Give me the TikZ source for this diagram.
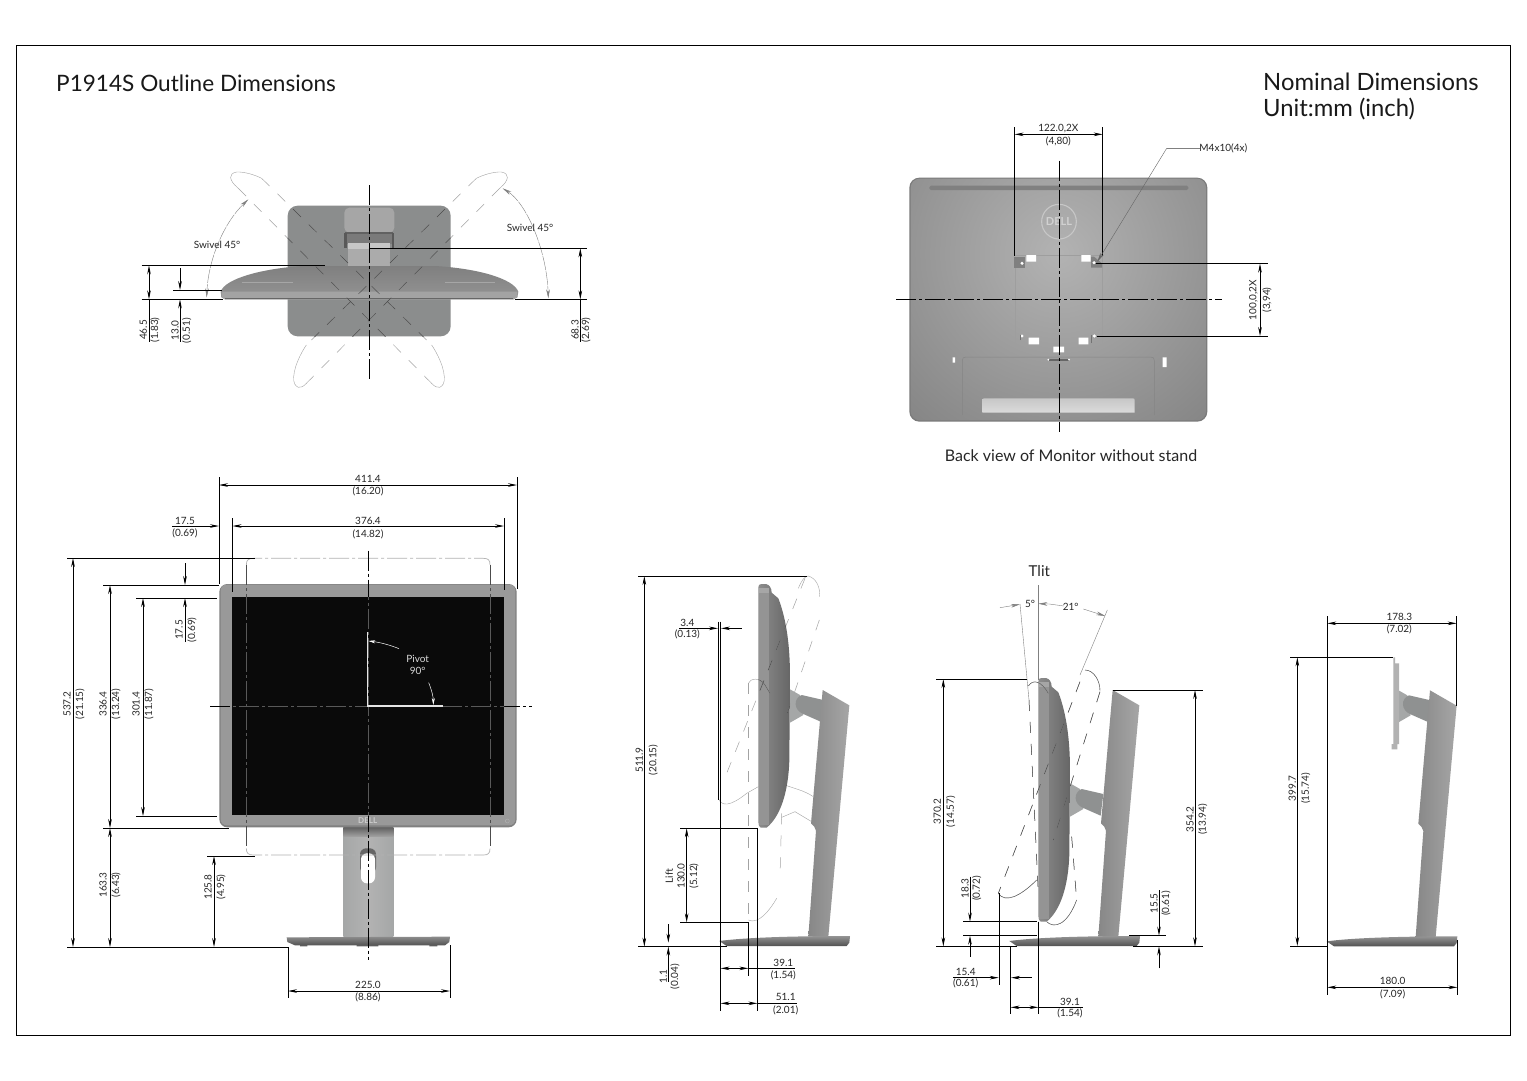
\documentclass[tikz,border=0pt]{standalone}
\usepackage{fontspec}
\setmainfont{Lato}
\usetikzlibrary{arrows.meta}
\definecolor{plateg}{HTML}{8B8D8D}
\definecolor{lightg}{HTML}{A5A7A7}
\definecolor{midg}{HTML}{8F9191}
\definecolor{darkg}{HTML}{6A6C6C}
\tikzset{
  dimtip/.tip={Stealth[length=9pt,width=3.6pt]},
  dimline/.style={line width=0.8pt,black,dimtip-dimtip},
  endtip/.style={line width=0.8pt,black,-dimtip},
  extline/.style={line width=0.8pt,black},
  cline/.style={line width=0.7pt,dash pattern=on 20pt off 3pt on 3pt off 3pt},
  ghost/.style={line width=0.5pt,draw=black!36,dash pattern=on 11pt off 11pt},
  ghostsolid/.style={line width=0.4pt,draw=black!36},
  thin gray/.style={line width=0.4pt,draw=black!50},
  lab/.style={font=\fontsize{10}{10}\selectfont,text=black!85,inner sep=0pt},
  rlab/.style={lab,rotate=90},
  big/.style={font=\fontsize{22.6}{22.6}\selectfont,text=black!90,inner sep=0pt,anchor=west},
  bigger/.style={font=\fontsize{23.8}{23.8}\selectfont,text=black!90,inner sep=0pt,anchor=west},
  darkghosts/.style={ghost/.append style={draw=black!72},ghostsolid/.append style={draw=black!68}},
}
\newcount\lblno
\def\T#1#2{\global\advance\lblno by 1 \node[lab] (t\the\lblno) at #1 {#2};}
\def\R#1#2{\global\advance\lblno by 1 \node[rlab] (t\the\lblno) at #1 {#2};}
% side-view parts (coordinates of the first side view, 3x)
\def\armpart{%
  \fill[lightg] (480,388) -- (510,405) -- (520,465) -- (480,488) -- cycle;
  \fill[midg] (515,405) -- (580,420) -- (572,485) -- (520,462) .. controls (490,450) and (490,415) .. (515,405) -- cycle;
}
\def\columnpart{%
  \shade[left color=black!47,middle color=black!45,right color=black!35] (578,390) -- (658,436) -- (595,1130) -- (535,1130) -- (558,812) .. controls (556,802) and (550,795) .. (543,790) -- cycle;
  \shade[top color=black!42,bottom color=black!68] (268,1143) .. controls (350,1132) and (500,1128) .. (660,1128) -- (658,1148) -- (650,1158) -- (290,1158) -- cycle;
}
\def\monpath{(385,82) .. controls (385,75) and (388,72) .. (395,72) -- (408,72) .. controls (418,74) and (425,84) .. (425,98) -- (445,115)
    .. controls (470,180) and (480,260) .. (480,350) -- (478,600) .. controls (475,700) and (450,770) .. (410,803) -- (392,803) .. controls (387,800) and (385,795) .. (385,785) -- cycle}
\def\monpart{%
  \shade[left color=black!45,middle color=black!48,right color=black!60] \monpath;
  \fill[black!35] (386,84) rectangle (416,98);
  \fill[black!42] (386,100) rectangle (417,795);
}
\def\swivelghost{%
  \draw[ghost] (395,55) -- (905,555);
  \draw[ghost] (325,85) -- (895,660);
  \draw[ghostsolid] (325,85) .. controls (295,60) and (295,40) .. (320,36) .. controls (345,35) and (375,45) .. (395,55);
  \draw[ghostsolid] (905,555) .. controls (935,600) and (950,650) .. (940,672) .. controls (925,695) and (910,675) .. (895,660);
}
\def\swivelboth{%
  \swivelghost
  \begin{scope}[shift={(1434,0)},xscale=-1]\swivelghost\end{scope}
}
\def\liftghosts{%
  \draw[ghost] (525,55) -- (290,640);
  \draw[ghost] (568,180) -- (465,480);
  \draw[ghostsolid] (505,85) .. controls (515,60) and (525,48) .. (535,48) .. controls (560,55) and (572,85) .. (568,110);
  \draw[ghostsolid] (265,715) .. controls (275,740) and (300,740) .. (350,700) -- (385,680);
  \draw[ghostsolid] (465,675) .. controls (490,685) and (520,690) .. (550,710);
  \draw[ghost] (355,370) -- (355,1080);
  \draw[ghost] (455,760) -- (450,950);
  \draw[ghostsolid] (355,370) .. controls (360,355) and (390,350) .. (405,375) -- (420,400);
  \draw[ghostsolid] (355,1080) .. controls (385,1095) and (420,1050) .. (440,1015);
  \draw[ghostsolid] (455,772) -- (495,755) -- (545,785);
}
\def\tiltghosts{%
  \draw[ghost] (480,365) -- (235,1000);
  \draw[ghost] (540,395) -- (400,840);
  \draw[ghost] (327,420) -- (355,1000);
  \draw[ghost] (455,830) -- (470,1020);
  \draw[ghostsolid] (495,330) .. controls (520,330) and (540,360) .. (540,392);
  \draw[ghostsolid] (235,1000) .. controls (255,1030) and (300,1010) .. (350,960);
  \draw[ghostsolid] (325,378) .. controls (340,355) and (365,365) .. (385,400);
  \draw[ghostsolid] (380,1085) .. controls (400,1105) and (440,1100) .. (470,1020);
}
\begin{document}
\begin{tikzpicture}[x=1pt,y=-1pt]
\useasboundingbox (0,0) rectangle (1527,1080);
\fill[white] (0,0) rectangle (1527,1080);
\draw[line width=0.7pt,black] (16,45) rectangle (1510,1035);
\node[big] (title) at (56,83) {P1914S Outline Dimensions};
\node[bigger] (nominal) at (1263,82) {Nominal Dimensions};
\node[bigger] (unit) at (1263,109) {Unit:mm (inch)};

%% ---------- top view ----------
\begin{scope}[shift={(130,160)},scale=1/3]
\fill[plateg,rounded corners=10pt] (473,137) rectangle (962,529);
\fill[black!35,rounded corners=5pt] (643,143) rectangle (793,218);
\fill[black!52] (648,218) rectangle (788,252);
\fill[black!62] (645,216) rectangle (790,221);
\fill[black!65] (643,218) rectangle (650,265);
\fill[black!65] (786,218) rectangle (793,265);
\fill[black!22] (655,250) rectangle (780,268);
\fill[black!33] (655,268) rectangle (780,320);
\shade[top color=black!50,bottom color=black!42] (272,395) .. controls (285,355) and (400,325) .. (520,318) -- (915,318) .. controls (1040,325) and (1150,355) .. (1165,395) -- (1162,412) -- (1150,418) -- (285,418) -- (274,412) -- cycle;
\fill[black!36] (275,395) -- (1162,395) -- (1162,411) -- (1150,418) -- (285,418) -- (275,411) -- cycle;
\draw[black!35,line width=0.8pt] (335,367) -- (490,367);
\draw[black!35,line width=0.8pt] (945,367) -- (1095,367);
\draw[black!60,line width=0.6pt] (285,416) -- (1150,416);
\swivelboth
\begin{scope}
\clip (473,137) rectangle (962,529);
\tikzset{darkghosts}
\swivelboth
\end{scope}
\draw[thin gray,dimtip-dimtip,dash pattern=on 14pt off 1pt] (355,118) .. controls (280,190) and (235,300) .. (230,412);
\draw[thin gray,dimtip-dimtip,dash pattern=on 14pt off 1pt] (1118,85) .. controls (1190,130) and (1250,270) .. (1255,415);
\draw[cline] (717,75) -- (717,660);
\draw[extline] (35,316) -- (585,316);
\draw[extline] (35,418) -- (280,418);
\draw[dimline] (57,316) -- (57,418);
\draw[extline] (57,418) -- (57,545);
\draw[extline] (130,390) -- (275,390);
\draw[endtip] (150,325) -- (150,390);
\draw[endtip] (150,545) -- (150,418);
\draw[extline] (717,265) -- (1372,265);
\draw[extline] (1155,418) -- (1372,418);
\draw[dimline] (1351,265) -- (1351,418);
\draw[extline] (1351,418) -- (1351,545);
\R{(40,510)}{46.5}\R{(75,510)}{(1.83)}
\R{(135,512)}{13.0}\R{(170,512)}{(0.51)}
\R{(1335,510)}{68.3}\R{(1368,510)}{(2.69)}
\T{(261,255)}{Swivel 45°}
\T{(1200,205)}{Swivel 45°}
\end{scope}

%% ---------- back view ----------
\begin{scope}[shift={(890,120)},scale=1/3]
\fill[black!52,rounded corners=10pt] (58,173) rectangle (952,905);
\begin{scope}
\clip[rounded corners=9pt] (62,176) rectangle (948,901);
\shade[inner color=black!30,outer color=black!50] (507,400) circle (760);
\end{scope}
\fill[black!50,rounded corners=1.5pt] (118,197) rectangle (895,210);
\draw[black!22,line width=1.1pt] (507,305) circle (52);
\node[font=\bfseries\fontsize{11}{11}\selectfont,text=black!18,inner sep=0pt] (delllogo) at (507,305) {DELL};
\draw[black!38,line width=0.4pt] (372,405) -- (636,405) -- (636,670);
\draw[black!38,line width=0.4pt] (375,440) -- (375,670);
\fill[black!50] (372,410) -- (372,443) -- (405,443) -- (405,410) -- cycle;
\fill[black!50] (603,410) -- (603,443) -- (636,443) -- (636,430) -- (612,410) -- cycle;
\fill[white] (409,405) rectangle (438,425) (574,405) rectangle (602,425);
\fill[white] (416,653) rectangle (447,673) (566,653) rectangle (595,673) (490,680) rectangle (522,697);
\fill[white] (188,712) rectangle (195,728) (818,712) rectangle (830,741);
\fill[white] (396,430) circle (5) (612,428) circle (5) (396,648) circle (5) (613,648) circle (5);
\draw[black!55,line width=0.4pt] (390,660) -- (390,645) (605,645) -- (605,670);
\draw[black!48,line width=0.5pt] (217,885) -- (217,722) .. controls (217,714) and (220,711) .. (228,711) -- (782,711) .. controls (790,711) and (793,714) .. (793,722) -- (793,885);
\shade[top color=black!22,bottom color=black!14] (277,838) .. controls (277,835) and (279,835) .. (282,835) -- (728,835) .. controls (732,835) and (734,836) .. (734,840) -- (734,878) -- (277,878) -- cycle;
\fill[black!60] (478,716) rectangle (538,722);
\fill[white] (475,719) circle (3) (537,719) circle (3);
\draw[cline] (507,122) -- (507,935);
\draw[cline] (18,539) -- (995,539);
\draw[extline] (374,22) -- (374,408);
\draw[extline] (638,22) -- (638,408);
\draw[dimline] (374,43) -- (638,43);
\draw[extline] (618,431) -- (1133,431);
\draw[extline] (620,648) -- (1133,648);
\draw[dimline] (1110,431) -- (1110,648);
\draw[thin gray] (930,85) -- (830,85);
\draw[line width=0.4pt,draw=black!60,-dimtip] (830,85) -- (622,425);
\T{(505,25)}{122.0,2X}\T{(505,63)}{(4,80)}
\R{(1090,540)}{100,0,2X}\R{(1131,540)}{(3,94)}
\T{(1000,85)}{M4x10(4x)}
\end{scope}
\node[font=\fontsize{16}{16}\selectfont,text=black!85,inner sep=0pt] (caption) at (1071,456) {Back view of Monitor without stand};

%% ---------- front view ----------
\begin{scope}[shift={(200,540)},scale=1/3]
\shade[left color=lightg,right color=lightg,middle color=black!30] (430,862) rectangle (580,1190);
\shade[top color=black!62,bottom color=black!36] (430,862) rectangle (580,890);
\fill[black!60,rounded corners=6pt] (480,925) rectangle (528,1000);
\fill[white,rounded corners=6pt] (483,940) rectangle (525,1030);
\fill[black!62] (300,1212) rectangle (322,1219) (470,1212) rectangle (535,1219) (688,1212) rectangle (712,1219);
\shade[top color=black!45,bottom color=black!68] (260,1192) -- (750,1190) -- (748,1206) -- (735,1216) -- (285,1216) -- (262,1206) -- cycle;
\fill[black!50,rounded corners=8pt] (58,132) rectangle (950,862);
\fill[black!40,rounded corners=6pt] (62,134) rectangle (946,856);
\fill[black!96] (97,172) rectangle (912,826);
\node[font=\bfseries\fontsize{8}{8}\selectfont,text=black!20,inner sep=0pt] (delllogo2) at (503,843) {DELL};
\draw[black!30,line width=0.4pt] (922,843) circle (6);
% rotated monitor ghost
\draw[line width=0.4pt,draw=black!30,cline] (139,75) .. controls (139,60) and (145,55) .. (160,55) -- (850,55) .. controls (865,55) and (870,60) .. (870,75);
\draw[line width=0.4pt,draw=black!30,cline] (139,925) .. controls (139,940) and (145,945) .. (160,945) -- (850,945) .. controls (865,945) and (870,940) .. (870,925);
\draw[line width=0.5pt,draw=black!70,cline] (139,75) -- (139,925);
\draw[line width=0.5pt,draw=black!70,cline] (870,75) -- (870,925);
\draw[cline,black] (505,32) -- (505,1260);
\draw[cline,black] (30,500) -- (995,500);
\begin{scope}
\clip (97,172) rectangle (912,826);
\draw[cline,black!65] (505,32) -- (505,1260);
\draw[cline,black!65] (30,500) -- (995,500);
\draw[line width=0.5pt,draw=black!65,cline] (139,75) -- (139,925);
\draw[line width=0.5pt,draw=black!65,cline] (870,75) -- (870,925);
\end{scope}
\draw[white!90!black,line width=1.2pt] (503,277) -- (503,498) -- (728,498);
\draw[white,line width=0.5pt,-{Stealth[length=7pt,width=3pt]}] (597,326) .. controls (570,315) and (540,307) .. (505,303);
\draw[white,line width=0.5pt,-{Stealth[length=7pt,width=3pt]}] (686,428) .. controls (695,450) and (700,470) .. (700,495);
\node[lab,text=black!15] (pivot) at (653,356) {Pivot};
\node[lab,text=black!15] (ninety) at (653,392) {90°};
\end{scope}
% front dimensions
\draw[extline] (219,477) -- (219,584);
\draw[extline] (517,477) -- (517,589);
\draw[dimline] (219,485) -- (517,485);
\draw[extline] (232.5,518) -- (232.5,592);
\draw[extline] (504,518) -- (504,590);
\draw[dimline] (232.5,526) -- (504,526);
\draw[endtip] (172,526) -- (219,526);
\T{(368,479)}{411.4}\T{(368,491)}{(16.20)}
\T{(368,521)}{376.4}\T{(368,534)}{(14.82)}
\T{(185,521)}{17.5}\T{(185,533)}{(0.69)}
\draw[extline] (67,558) -- (255,558);
\draw[extline] (67,947) -- (288,947);
\draw[dimline] (73,558) -- (73,947);
\R{(67,704)}{537.2}\R{(80,704)}{(21.15)}
\draw[extline] (103,585) -- (219,585);
\draw[extline] (103,828) -- (229,828);
\draw[dimline] (110,585) -- (110,828);
\draw[dimline] (110,828) -- (110,947);
\R{(103,704)}{336.4}\R{(116,704)}{(13.24)}
\R{(103,885)}{163.3}\R{(116,885)}{(6.43)}
\draw[extline] (136,598) -- (217,598);
\draw[extline] (136,816) -- (217,816);
\draw[dimline] (143,598) -- (143,816);
\R{(136,704)}{301.4}\R{(149,704)}{(11.87)}
\draw[endtip] (185,563) -- (185,585);
\draw[endtip] (185,642) -- (185,598);
\R{(179,630)}{17.5}\R{(192,630)}{(0.69)}
\draw[extline] (207,856) -- (255,856);
\draw[dimline] (214,856) -- (214,947);
\R{(208,887)}{125.8}\R{(221,887)}{(4.95)}
\draw[extline] (288,947) -- (288,998);
\draw[extline] (450,945) -- (450,998);
\draw[dimline] (288,991) -- (450,991);
\T{(368,985)}{225.0}\T{(368,997)}{(8.86)}

%% ---------- side view, lift ----------
\begin{scope}[shift={(630,560)},scale=1/3]
\armpart
\columnpart
\monpart
\liftghosts
\begin{scope}
\clip \monpath;
\tikzset{darkghosts}
\liftghosts
\end{scope}
\draw[extline] (25,48) -- (530,48);
\draw[extline] (25,1160) -- (290,1160);
\draw[dimline] (43,48) -- (43,1160);
\draw[extline] (265,185) -- (265,720);
\draw[extline] (272,185) -- (272,1352);
\draw[endtip] (148,205) -- (264,205);
\draw[endtip] (335,205) -- (273,205);
\draw[extline] (150,805) -- (382,805);
\draw[extline] (150,1087) -- (355,1087);
\draw[dimline] (170,805) -- (170,1087);
\draw[endtip] (115,1092) -- (115,1148);
\draw[endtip] (115,1265) -- (115,1160);
\draw[extline] (355,1087) -- (355,1248);
\draw[extline] (382,805) -- (382,1352);
\draw[dimline] (272,1225) -- (355,1225);
\draw[extline] (355,1225) -- (495,1225);
\draw[dimline] (272,1330) -- (382,1330);
\draw[extline] (382,1330) -- (500,1330);
\R{(28,600)}{511.9}\R{(70,600)}{(20.15)}
\T{(172,188)}{3.4}\T{(172,223)}{(0.13)}
\R{(118,948)}{Lift}\R{(153,948)}{130.0}\R{(192,948)}{(5.12)}
\R{(100,1250)}{1.1}\R{(135,1250)}{(0.04)}
\T{(460,1208)}{39.1}\T{(460,1245)}{(1.54)}
\T{(467,1312)}{51.1}\T{(467,1350)}{(2.01)}
\end{scope}

%% ---------- side view, tilt ----------
\begin{scope}[shift={(920,560)},scale=1/3]
\begin{scope}[shift={(-30,282)}]\armpart\end{scope}
\columnpart
\begin{scope}[shift={(-30,282)}]\monpart\end{scope}
\node[font=\fontsize{15}{15}\selectfont,text=black!85,inner sep=0pt] (tilt) at (358,32) {Tlit};
\draw[thin gray] (355,75) -- (355,360);
\draw[thin gray] (300,132) -- (327,420);
\draw[thin gray] (562,150) -- (480,345);
\tiltghosts
\begin{scope}
\begin{scope}[shift={(-30,282)}]\clip \monpath;\end{scope}
\tikzset{darkghosts}
\tiltghosts
\end{scope}
\draw[thin gray,-dimtip] (240,143) -- (300,133);
\draw[thin gray,-dimtip] (388,132) -- (355,131);
\draw[thin gray] (388,132) -- (432,138);
\draw[thin gray,-dimtip] (490,147) -- (556,168);
\T{(330,133)}{5°}\T{(452,142)}{21°}
\draw[extline] (48,357) -- (320,357);
\draw[extline] (48,1159) -- (290,1159);
\draw[dimline] (70,357) -- (70,1159);
\draw[extline] (578,390) -- (848,390);
\draw[extline] (640,1159) -- (848,1159);
\draw[dimline] (825,390) -- (825,1159);
\draw[extline] (130,1085) -- (350,1085);
\draw[extline] (130,1127) -- (350,1127);
\draw[endtip] (150,950) -- (150,1085);
\draw[endtip] (150,1190) -- (150,1127);
\draw[extline] (628,1127) -- (738,1127);
\draw[endtip] (717,990) -- (717,1127);
\draw[endtip] (717,1225) -- (717,1159);
\draw[extline] (237,1000) -- (237,1275);
\draw[extline] (272,1160) -- (272,1362);
\draw[extline] (355,1085) -- (355,1362);
\draw[endtip] (100,1253) -- (236,1253);
\draw[endtip] (335,1253) -- (273,1253);
\draw[dimline] (272,1342) -- (355,1342);
\draw[extline] (355,1342) -- (490,1342);
\R{(52,755)}{370.2}\R{(92,755)}{(14.57)}
\R{(810,778)}{354.2}\R{(848,778)}{(13.94)}
\R{(135,985)}{18.3}\R{(170,985)}{(0.72)}
\R{(702,1030)}{15.5}\R{(738,1030)}{(0.61)}
\T{(137,1237)}{15.4}\T{(137,1270)}{(0.61)}
\T{(450,1325)}{39.1}\T{(450,1360)}{(1.54)}
\end{scope}

%% ---------- side view, bare stand ----------
\begin{scope}[shift={(1280,600)},scale=1/3]
\begin{scope}[shift={(-128,-119)}]\armpart\columnpart\end{scope}
\fill[black!30] (340,172) -- (345,172) -- (345,190) -- (357,190) -- (357,432) -- (352,432) -- (352,448) -- (335,448) -- (335,432) -- (340,432) -- cycle;
\draw[extline] (142,48) -- (142,1040);
\draw[extline] (530,48) -- (530,317);
\draw[dimline] (142,70) -- (530,70);
\draw[extline] (30,172) -- (340,172);
\draw[extline] (30,1038) -- (142,1038);
\draw[dimline] (52,172) -- (52,1038);
\draw[extline] (142,1040) -- (142,1185);
\draw[extline] (532,1020) -- (532,1185);
\draw[dimline] (142,1162) -- (532,1162);
\T{(358,52)}{178.3}\T{(358,88)}{(7.02)}
\R{(37,565)}{399.7}\R{(77,565)}{(15.74)}
\T{(338,1143)}{180.0}\T{(338,1183)}{(7.09)}
\end{scope}
\end{tikzpicture}
\end{document}
